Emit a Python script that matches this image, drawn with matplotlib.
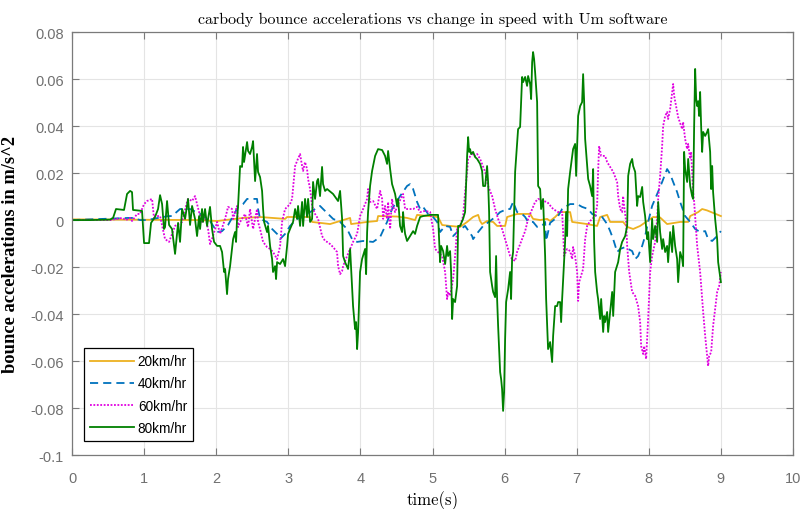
import matplotlib
matplotlib.use("Agg")
import matplotlib.pyplot as plt
from matplotlib.ticker import FuncFormatter

plt.rcParams['axes.unicode_minus'] = False

# (time s, bounce acceleration m/s^2) for each speed
speed_20 = [(0, 0.0004), (1.776, 0.0001), (2.012, -0.0003), (2.372, 0.0010), (2.608, 0.0014),
            (2.955, 0.0006), (2.983, 0.0014), (3.302, 0.0014), (3.330, -0.0007), (3.579, -0.0016),
            (3.718, -0.0003), (3.857, 0.0010), (3.871, -0.0016), (4.093, -0.0007), (4.231, -0.0003),
            (4.245, 0.0018), (4.509, 0.0016), (4.647, 0.0010), (4.758, 0.0001), (4.786, 0.0023),
            (5.077, 0.0014), (5.133, -0.0020), (5.244, -0.0024), (5.383, -0.0028), (5.480, -0.0007),
            (5.563, 0.0014), (5.633, 0.0023), (5.660, -0.0003), (5.688, -0.0016), (5.757, -0.0003),
            (5.841, -0.0007), (5.896, -0.0024), (6.007, -0.0024), (6.035, 0.0014), (6.173, 0.0027),
            (6.354, 0.0027), (6.395, 0.0006), (6.493, 0.0001), (6.590, 0.0006), (6.631, -0.0003),
            (6.701, 0.0014), (6.770, 0.0035), (6.909, 0.0035), (6.937, -0.0007), (7.145, -0.0016),
            (7.283, -0.0024), (7.325, 0.0014), (7.422, 0.0023), (7.464, -0.0007), (7.644, -0.0007),
            (7.700, -0.0028), (7.783, -0.0037), (7.880, -0.0024), (8.060, 0.0014), (8.157, 0.0012),
            (8.254, -0.0016), (8.435, -0.0007), (8.546, -0.0007), (8.574, 0.0018), (8.685, 0.0035),
            (8.740, 0.0048), (8.809, 0.0042), (9.0, 0.0018)]

speed_40 = [(0, 0.0001), (0.777, 0.0010), (0.846, 0.0010), (0.943, 0.0001), (1.040, 0.0001),
            (1.193, 0.0010), (1.332, 0.0018), (1.387, 0.0018), (1.498, 0.0048), (1.637, 0.0048),
            (1.803, 0.0023), (1.914, -0.0003), (2.012, -0.0050), (2.081, -0.0046), (2.164, -0.0020),
            (2.234, 0.0018), (2.303, 0.0057), (2.372, 0.0069), (2.428, 0.0091), (2.497, 0.0091),
            (2.566, 0.0091), (2.580, 0.0048), (2.608, 0.0006), (2.705, -0.0007), (2.775, -0.0037),
            (2.844, -0.0058), (2.886, -0.0080), (2.955, -0.0058), (3.024, -0.0024), (3.121, 0.0006),
            (3.205, 0.0014), (3.302, 0.0035), (3.371, 0.0048), (3.440, 0.0061), (3.482, 0.0048),
            (3.552, 0.0027), (3.621, 0.0006), (3.718, -0.0007), (3.815, -0.0037), (3.884, -0.0080),
            (3.954, -0.0092), (4.037, -0.0088), (4.176, -0.0092), (4.273, -0.0071), (4.370, -0.0007),
            (4.439, 0.0048), (4.550, 0.0103), (4.647, 0.0146), (4.689, 0.0154), (4.731, 0.0133),
            (4.786, 0.0078), (4.828, 0.0048), (4.869, 0.0057), (4.939, 0.0027), (5.008, 0.0014),
            (5.064, -0.0007), (5.105, -0.0050), (5.175, -0.0024), (5.244, -0.0028), (5.286, -0.0067),
            (5.355, -0.0046), (5.452, -0.0024), (5.549, -0.0067), (5.563, -0.0080), (5.633, -0.0050),
            (5.702, -0.0024), (5.799, -0.0003), (5.868, 0.0014), (5.938, 0.0035), (6.035, 0.0048),
            (6.076, 0.0048), (6.118, 0.0078), (6.173, 0.0035), (6.243, 0.0027), (6.285, 0.0014),
            (6.326, -0.0007), (6.395, -0.0007), (6.451, -0.0028), (6.520, -0.0024), (6.562, -0.0007),
            (6.576, -0.0088), (6.631, -0.0011), (6.701, 0.0006), (6.742, 0.0018), (6.798, 0.0048),
            (6.839, 0.0057), (6.909, 0.0069), (7.006, 0.0069), (7.075, 0.0057), (7.159, 0.0048),
            (7.214, 0.0027), (7.283, 0.0018), (7.353, 0.0014), (7.422, -0.0016), (7.464, -0.0046),
            (7.506, -0.0080), (7.561, -0.0135), (7.603, -0.0122), (7.672, -0.0114), (7.714, -0.0122),
            (7.769, -0.0131), (7.811, -0.0165), (7.852, -0.0152), (7.908, -0.0109), (7.949, -0.0067),
            (7.991, -0.0007), (8.046, 0.0061), (8.116, 0.0112), (8.185, 0.0163), (8.254, 0.0218),
            (8.296, 0.0197), (8.338, 0.0163), (8.393, 0.0120), (8.435, 0.0078), (8.504, 0.0018),
            (8.574, -0.0007), (8.643, -0.0037), (8.712, -0.0050), (8.782, -0.0046), (8.823, -0.0080),
            (8.879, -0.0088), (8.948, -0.0067), (9.0, -0.0046)]

speed_60 = [(0, 0.0001), (0.527, 0.0001), (0.694, 0.0010), (0.749, 0.0001), (0.805, 0.0010),
            (0.832, -0.0003), (0.902, 0.0027), (0.943, 0.0027), (0.999, 0.0069), (1.040, 0.0082),
            (1.110, 0.0091), (1.138, 0.0006), (1.151, 0.0018), (1.221, 0.0018), (1.290, -0.0080),
            (1.346, -0.0092), (1.429, -0.0024), (1.526, -0.0007), (1.595, 0.0078), (1.609, 0.0091),
            (1.665, 0.0082), (1.706, 0.0103), (1.762, 0.0035), (1.803, -0.0007), (1.845, 0.0018),
            (1.887, -0.0037), (1.914, -0.0101), (1.956, -0.0067), (2.012, -0.0007), (2.053, -0.0058),
            (2.123, 0.0006), (2.164, 0.0057), (2.220, 0.0048), (2.234, 0.0006), (2.289, 0.0061),
            (2.303, -0.0029), (2.331, -0.0007), (2.400, 0.0027), (2.442, -0.0029), (2.469, 0.0048),
            (2.511, -0.0037), (2.566, 0.0048), (2.580, -0.0007), (2.608, -0.0037), (2.650, -0.0092),
            (2.705, -0.0114), (2.747, -0.0122), (2.788, -0.0135), (2.844, -0.0165), (2.886, -0.0109),
            (2.913, -0.0007), (2.955, 0.0048), (3.024, 0.0069), (3.052, 0.0091), (3.094, 0.0231),
            (3.121, 0.0252), (3.163, 0.0282), (3.191, 0.0231), (3.205, 0.0210), (3.232, 0.0248),
            (3.260, 0.0218), (3.274, 0.0176), (3.302, 0.0133), (3.330, 0.0061), (3.371, 0.0027),
            (3.413, 0.0006), (3.468, -0.0067), (3.510, -0.0088), (3.538, -0.0092), (3.579, -0.0101),
            (3.621, -0.0114), (3.676, -0.0135), (3.690, -0.0195), (3.718, -0.0229), (3.746, -0.0216),
            (3.760, -0.0195), (3.815, -0.0152), (3.857, -0.0122), (3.898, -0.0092), (3.954, -0.0058),
            (3.995, 0.0018), (4.037, 0.0048), (4.093, 0.0091), (4.106, 0.0133), (4.134, 0.0078),
            (4.176, 0.0082), (4.231, 0.0048), (4.273, 0.0125), (4.301, 0.0091), (4.315, 0.0006),
            (4.342, 0.0061), (4.370, 0.0006), (4.384, 0.0078), (4.412, -0.0037), (4.439, 0.0091),
            (4.453, 0.0061), (4.481, 0.0035), (4.523, 0.0069), (4.592, 0.0112), (4.620, 0.0048),
            (4.661, 0.0048), (4.731, 0.0048), (4.786, 0.0057), (4.828, 0.0035), (4.897, 0.0040),
            (4.967, 0.0035), (5.008, -0.0037), (5.036, -0.0122), (5.077, -0.0135), (5.133, -0.0152),
            (5.175, -0.0220), (5.202, -0.0335), (5.216, -0.0305), (5.244, -0.0322), (5.286, -0.0250),
            (5.313, -0.0152), (5.341, -0.0037), (5.383, -0.0024), (5.424, 0.0018), (5.452, 0.0120),
            (5.480, 0.0206), (5.494, 0.0261), (5.549, 0.0282), (5.591, 0.0274), (5.619, 0.0282),
            (5.660, 0.0261), (5.730, 0.0206), (5.771, 0.0146), (5.827, 0.0103), (5.868, 0.0048),
            (5.910, 0.0006), (5.965, -0.0037), (6.007, -0.0080), (6.049, -0.0122), (6.076, -0.0152),
            (6.104, -0.0165), (6.146, -0.0173), (6.173, -0.0135), (6.243, -0.0080), (6.285, -0.0046),
            (6.326, 0.0006), (6.382, 0.0048), (6.423, 0.0078), (6.465, 0.0091), (6.534, 0.0082),
            (6.590, 0.0078), (6.673, 0.0048), (6.742, 0.0035), (6.798, 0.0035), (6.812, -0.0050),
            (6.826, -0.0152), (6.867, -0.0122), (6.909, -0.0131), (6.937, -0.0165), (6.950, -0.0114),
            (6.978, -0.0152), (7.006, -0.0220), (7.020, -0.0343), (7.034, -0.0263), (7.075, -0.0220),
            (7.089, -0.0207), (7.117, -0.0080), (7.145, -0.0024), (7.186, -0.0003), (7.256, 0.0018),
            (7.283, 0.0061), (7.297, 0.0206), (7.311, 0.0316), (7.339, 0.0274), (7.394, 0.0274),
            (7.422, 0.0248), (7.464, 0.0227), (7.506, 0.0206), (7.561, 0.0163), (7.575, 0.0103),
            (7.603, 0.0048), (7.630, 0.0035), (7.644, 0.0103), (7.658, 0.0061), (7.686, -0.0007),
            (7.700, -0.0109), (7.728, -0.0220), (7.769, -0.0305), (7.811, -0.0322), (7.852, -0.0365),
            (7.880, -0.0433), (7.894, -0.0535), (7.922, -0.0569), (7.935, -0.0535), (7.963, -0.0590),
            (7.991, -0.0420), (8.019, -0.0220), (8.046, -0.0152), (8.088, -0.0092), (8.116, 0.0006),
            (8.130, 0.0091), (8.157, 0.0189), (8.185, 0.0316), (8.199, 0.0401), (8.227, 0.0444),
            (8.254, 0.0461), (8.268, 0.0431), (8.296, 0.0473), (8.324, 0.0546), (8.338, 0.0580),
            (8.352, 0.0529), (8.379, 0.0486), (8.407, 0.0439), (8.463, 0.0388), (8.476, 0.0418),
            (8.504, 0.0346), (8.532, 0.0303), (8.546, 0.0325), (8.574, 0.0261), (8.587, 0.0291),
            (8.615, 0.0120), (8.629, 0.0078), (8.671, -0.0109), (8.712, -0.0220), (8.754, -0.0390),
            (8.782, -0.0492), (8.809, -0.0578), (8.823, -0.0620), (8.837, -0.0578), (8.865, -0.0561),
            (8.892, -0.0450), (8.920, -0.0378), (8.948, -0.0305), (8.976, -0.0280), (9.0, -0.0220)]

speed_80 = [(0, 0.0001), (0.25, 0.0001), (0.527, 0.0003), (0.569, 0.0010), (0.610, 0.0048),
            (0.721, 0.0044), (0.763, 0.0112), (0.805, 0.0125), (0.832, 0.0120), (0.846, 0.0044),
            (0.971, 0.0040), (0.999, -0.0097), (1.068, -0.0097), (1.096, -0.0011), (1.151, 0.0014),
            (1.193, 0.0048), (1.221, 0.0107), (1.249, 0.0069), (1.276, -0.0037), (1.290, -0.0029),
            (1.318, 0.0082), (1.346, -0.0020), (1.387, -0.0037), (1.429, -0.0143), (1.471, -0.0011),
            (1.498, -0.0092), (1.526, 0.0048), (1.568, 0.0006), (1.609, 0.0091), (1.637, -0.0020),
            (1.665, 0.0061), (1.706, 0.0006), (1.734, -0.0067), (1.762, 0.0018), (1.776, -0.0037),
            (1.803, 0.0048), (1.817, -0.0007), (1.845, 0.0048), (1.873, -0.0024), (1.887, 0.0006),
            (1.914, 0.0057), (1.942, -0.0037), (1.970, -0.0092), (2.012, -0.0109), (2.053, -0.0109),
            (2.081, -0.0135), (2.109, -0.0220), (2.123, -0.0207), (2.150, -0.0314), (2.164, -0.0250),
            (2.192, -0.0195), (2.234, -0.0080), (2.261, -0.0050), (2.275, -0.0092), (2.289, 0.0006),
            (2.303, 0.0061), (2.331, 0.0231), (2.358, 0.0227), (2.372, 0.0312), (2.386, 0.0248),
            (2.428, 0.0333), (2.442, 0.0295), (2.469, 0.0282), (2.497, 0.0312), (2.511, 0.0337),
            (2.525, 0.0248), (2.539, 0.0167), (2.566, 0.0282), (2.580, 0.0206), (2.608, 0.0184),
            (2.636, 0.0125), (2.650, 0.0048), (2.664, -0.0007), (2.705, -0.0050), (2.719, -0.0024),
            (2.747, -0.0109), (2.775, -0.0165), (2.788, -0.0220), (2.816, -0.0195), (2.830, -0.0250),
            (2.844, -0.0178), (2.886, -0.0186), (2.927, -0.0165), (2.955, -0.0195), (2.983, -0.0109),
            (2.997, -0.0058), (3.024, -0.0037), (3.066, -0.0007), (3.094, 0.0048), (3.121, 0.0006),
            (3.135, 0.0061), (3.163, -0.0024), (3.191, 0.0078), (3.205, -0.0024), (3.232, 0.0091),
            (3.260, 0.0014), (3.274, 0.0091), (3.302, -0.0007), (3.330, 0.0006), (3.343, 0.0163),
            (3.371, 0.0091), (3.399, 0.0167), (3.413, 0.0176), (3.440, 0.0103), (3.468, 0.0227),
            (3.482, 0.0154), (3.510, 0.0125), (3.538, 0.0133), (3.621, 0.0112), (3.690, 0.0082),
            (3.718, 0.0125), (3.746, 0.0006), (3.760, -0.0152), (3.787, -0.0178), (3.829, -0.0207),
            (3.857, -0.0122), (3.871, -0.0207), (3.898, -0.0365), (3.926, -0.0463), (3.940, -0.0433),
            (3.954, -0.0548), (3.968, -0.0475), (3.995, -0.0220), (4.023, -0.0165), (4.065, -0.0122),
            (4.079, -0.0229), (4.093, -0.0050), (4.106, 0.0035), (4.134, 0.0146), (4.162, 0.0210),
            (4.204, 0.0274), (4.245, 0.0303), (4.301, 0.0299), (4.342, 0.0274), (4.370, 0.0240),
            (4.384, 0.0295), (4.412, 0.0218), (4.439, 0.0154), (4.481, 0.0112), (4.509, 0.0061),
            (4.523, 0.0091), (4.550, -0.0024), (4.578, -0.0050), (4.592, 0.0035), (4.606, -0.0024),
            (4.620, -0.0058), (4.647, -0.0088), (4.689, -0.0067), (4.731, -0.0046), (4.758, -0.0058),
            (4.786, -0.0024), (4.828, 0.0014), (4.869, 0.0018), (4.967, 0.0023), (5.077, 0.0023),
            (5.105, -0.0178), (5.119, -0.0109), (5.147, -0.0131), (5.175, -0.0186), (5.202, -0.0109),
            (5.216, -0.0152), (5.244, -0.0131), (5.258, -0.0220), (5.272, -0.0420), (5.286, -0.0335),
            (5.313, -0.0348), (5.341, -0.0280), (5.355, -0.0024), (5.383, -0.0024), (5.424, 0.0006),
            (5.452, 0.0035), (5.480, 0.0274), (5.494, 0.0354), (5.508, 0.0291), (5.521, 0.0303),
            (5.535, 0.0282), (5.563, 0.0291), (5.591, 0.0269), (5.619, 0.0261), (5.660, 0.0240),
            (5.688, 0.0210), (5.702, 0.0146), (5.730, 0.0146), (5.757, 0.0231), (5.771, 0.0163),
            (5.785, 0.0035), (5.799, -0.0220), (5.827, -0.0280), (5.841, -0.0305), (5.868, -0.0327),
            (5.882, -0.0152), (5.896, -0.0335), (5.910, -0.0450), (5.938, -0.0646), (5.952, -0.0676),
            (5.965, -0.0718), (5.979, -0.0811), (5.993, -0.0731), (6.007, -0.0505), (6.021, -0.0348),
            (6.049, -0.0293), (6.076, -0.0220), (6.090, -0.0335), (6.104, -0.0165), (6.118, -0.0135),
            (6.132, 0.0035), (6.146, 0.0206), (6.173, 0.0325), (6.187, 0.0388), (6.215, 0.0397),
            (6.243, 0.0610), (6.257, 0.0588), (6.285, 0.0610), (6.312, 0.0572), (6.326, 0.0614),
            (6.354, 0.0580), (6.368, 0.0516), (6.382, 0.0673), (6.395, 0.0716), (6.409, 0.0686),
            (6.423, 0.0631), (6.451, 0.0503), (6.465, 0.0146), (6.493, 0.0133), (6.506, 0.0048),
            (6.534, 0.0091), (6.562, -0.0152), (6.576, -0.0335), (6.603, -0.0548), (6.631, -0.0518),
            (6.659, -0.0603), (6.673, -0.0492), (6.701, -0.0365), (6.728, -0.0365), (6.742, -0.0348),
            (6.770, -0.0348), (6.784, -0.0433), (6.798, -0.0335), (6.812, -0.0250), (6.839, -0.0092),
            (6.853, 0.0035), (6.867, -0.0067), (6.881, 0.0133), (6.909, 0.0206), (6.937, 0.0274),
            (6.950, 0.0303), (6.978, 0.0325), (6.992, 0.0189), (7.006, 0.0316), (7.020, 0.0444),
            (7.048, 0.0486), (7.075, 0.0503), (7.089, 0.0622), (7.103, 0.0507), (7.117, 0.0346),
            (7.145, 0.0231), (7.159, 0.0176), (7.186, 0.0146), (7.214, 0.0103), (7.228, 0.0218),
            (7.242, -0.0092), (7.256, -0.0220), (7.283, -0.0305), (7.297, -0.0335), (7.325, -0.0420),
            (7.339, -0.0335), (7.353, -0.0407), (7.367, -0.0475), (7.381, -0.0407), (7.394, -0.0433),
            (7.422, -0.0390), (7.436, -0.0475), (7.464, -0.0390), (7.492, -0.0305), (7.506, -0.0407),
            (7.533, -0.0220), (7.575, -0.0178), (7.603, -0.0122), (7.630, -0.0092), (7.672, -0.0067),
            (7.700, -0.0024), (7.714, 0.0189), (7.741, 0.0240), (7.769, 0.0261), (7.783, 0.0231),
            (7.811, 0.0206), (7.838, 0.0061), (7.852, 0.0103), (7.880, 0.0099), (7.908, 0.0142),
            (7.922, 0.0078), (7.949, 0.0018), (7.977, -0.0080), (7.991, -0.0050), (8.019, -0.0178),
            (8.046, 0.0006), (8.060, -0.0080), (8.088, -0.0024), (8.116, -0.0092), (8.130, 0.0078),
            (8.157, -0.0050), (8.185, -0.0122), (8.199, -0.0080), (8.227, -0.0135), (8.254, -0.0109),
            (8.268, -0.0178), (8.296, -0.0050), (8.324, -0.0135), (8.338, -0.0024), (8.365, -0.0109),
            (8.393, -0.0165), (8.407, -0.0263), (8.435, -0.0135), (8.463, -0.0165), (8.476, -0.0195),
            (8.490, 0.0291), (8.504, 0.0218), (8.532, 0.0163), (8.546, 0.0261), (8.574, 0.0146),
            (8.601, 0.0103), (8.615, 0.0091), (8.629, 0.0401), (8.643, 0.0644), (8.657, 0.0516),
            (8.671, 0.0486), (8.685, 0.0507), (8.698, 0.0444), (8.712, 0.0546), (8.726, 0.0401),
            (8.740, 0.0291), (8.754, 0.0376), (8.782, 0.0359), (8.809, 0.0376), (8.823, 0.0388),
            (8.851, 0.0291), (8.865, 0.0133), (8.879, 0.0231), (8.892, 0.0120), (8.920, 0.0006),
            (8.948, -0.0080), (8.962, -0.0178), (9.0, -0.0263)]

labels = ['20km/hr', '40km/hr', '60km/hr', '80km/hr']
x_ticks = list(range(0, 11))
y_ticks = [-0.1, -0.08, -0.06, -0.04, -0.02, 0, 0.02, 0.04, 0.06, 0.08]

axis_grey = '#7a7a7a'
sans = 'Liberation Sans'

fig = plt.figure(figsize=(8.04, 5.10), dpi=100)
ax = fig.add_axes([0.0896, 0.1053, 0.8967, 0.8294])

t, a = zip(*speed_20)
ax.plot(t, a, color='#EDB120', lw=1.3, label=labels[0])
t, a = zip(*speed_40)
ax.plot(t, a, color='#0072BD', lw=1.3, dashes=(4.5, 2.8), label=labels[1])
t, a = zip(*speed_60)
ax.plot(t, a, color='#E000E0', lw=1.3, dashes=(1.0, 0.9), label=labels[2])
t, a = zip(*speed_80)
ax.plot(t, a, color='#008000', lw=1.3, label=labels[3])

ax.set_xlim(0, 10)
ax.set_ylim(-0.1, 0.08)
ax.set_xticks(x_ticks)
ax.set_yticks(y_ticks)
ax.yaxis.set_major_formatter(FuncFormatter(lambda v, p: '%g' % round(v, 2)))

ax.grid(True, color='#e4e4e4', lw=0.8)
ax.set_axisbelow(True)
for s in ax.spines.values():
    s.set_color(axis_grey)
    s.set_linewidth(0.9)
ax.tick_params(direction='in', length=5, width=0.8, color=axis_grey,
               top=True, right=True, labelcolor='#707070', labelsize=10.5)
ax.tick_params(axis='x', pad=11)
ax.tick_params(axis='y', pad=6)
for lab in ax.get_xticklabels() + ax.get_yticklabels():
    lab.set_family(sans)

ax.set_title('carbody bounce accelerations vs change in speed with Um software',
             family='cmr10', fontsize=11.5, pad=7)
ax.set_xlabel('time(s)', family='cmr10', fontsize=12, labelpad=4)
ax.set_ylabel('bounce accelerations in m/s^2', family='Liberation Serif',
              fontweight='bold', fontsize=13.3)
ax.yaxis.set_label_coords(-0.074, 0.476)

leg = ax.legend(loc='lower left', bbox_to_anchor=(0.0166, 0.034), borderaxespad=0,
                fancybox=False, edgecolor='black', framealpha=1, handlelength=3.2,
                borderpad=0.45, labelspacing=0.6, handletextpad=0.3,
                prop={'family': sans, 'size': 9.8})
leg.get_frame().set_linewidth(0.9)

fig.savefig('out.png', dpi=100)
